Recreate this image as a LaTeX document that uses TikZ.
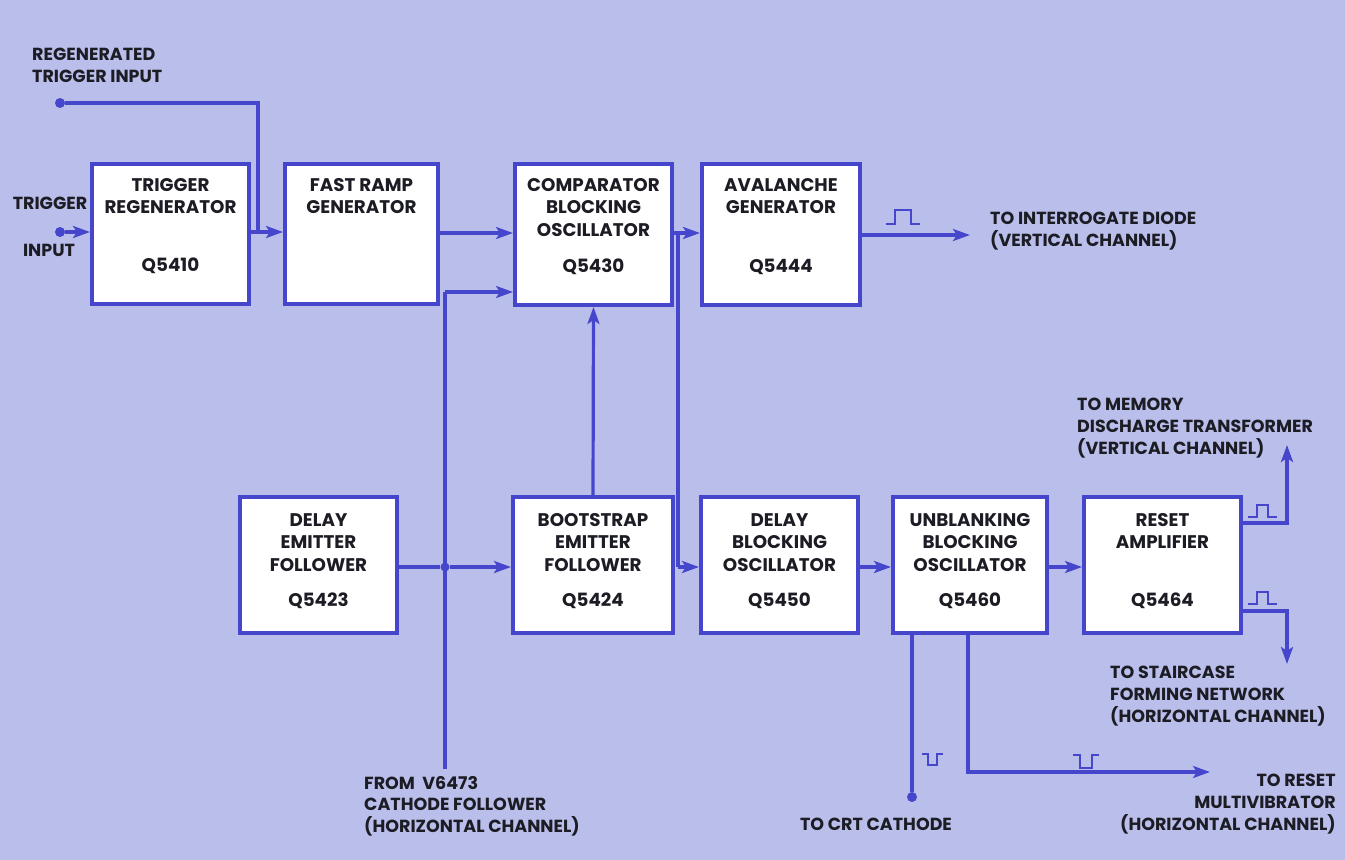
\documentclass[tikz,border=0pt]{standalone}
\usepackage{fontspec}
\setmainfont{Poppins}[BoldFont={* Bold}]
\usetikzlibrary{arrows.meta}
\definecolor{bg}{RGB}{186,190,234}
\definecolor{ln}{RGB}{70,70,205}
\definecolor{ink}{RGB}{28,28,36}
\tikzset{
  x=1pt, y=-1pt,
  blk/.style={draw=ln, line width=4pt, fill=white, inner sep=0pt},
  ttl/.style={font=\fontsize{18.3}{22.5}\selectfont\bfseries, text=ink, align=center, inner sep=0pt, anchor=north},
  qn/.style={font=\fontsize{18.3}{22.5}\selectfont\bfseries, text=ink, inner sep=0pt, anchor=base},
  lab/.style={font=\fontsize{17.5}{21.7}\selectfont\bfseries, text=ink, align=left, inner sep=0pt, anchor=north west},
  wire/.style={draw=ln, line width=3.2pt},
  arr/.style={wire, -{Stealth[length=17pt,width=12pt,inset=4pt]}},
  pulse/.style={draw=ln, line width=2pt},
  dot/.style={circle, fill=ln, inner sep=0pt, minimum size=10pt},
}
\begin{document}
\begin{tikzpicture}
\path[fill=bg] (0,0) rectangle (1345,860);
% boxes
\node[blk, minimum width=157pt, minimum height=140pt] (treg) at (170.5,234) {};
\node[blk, minimum width=153pt, minimum height=140pt] (fr) at (361.5,234) {};
\node[blk, minimum width=157pt, minimum height=141pt] (comp) at (593.5,234.5) {};
\node[blk, minimum width=158pt, minimum height=141pt] (aval) at (781,234.5) {};
\node[blk, minimum width=157pt, minimum height=136pt] (def) at (318.5,565) {};
\node[blk, minimum width=160pt, minimum height=136pt] (bef) at (593,565) {};
\node[blk, minimum width=157pt, minimum height=136pt] (dbo) at (779.5,565) {};
\node[blk, minimum width=154pt, minimum height=136pt] (ubo) at (970,565) {};
\node[blk, minimum width=157pt, minimum height=136pt] (rst) at (1162.5,565) {};
% box texts
\node[ttl] (t1) at ([yshift=-16pt]treg.north) {TRIGGER\\REGENERATOR};
\node[qn] (q1) at ([yshift=-109pt]treg.north) {Q5410};
\node[ttl] (t2) at ([yshift=-16pt]fr.north) {FAST RAMP\\GENERATOR};
\node[ttl] (t3) at ([yshift=-16pt]comp.north) {COMPARATOR\\BLOCKING\\OSCILLATOR};
\node[qn] (q3) at ([yshift=-110pt]comp.north) {Q5430};
\node[ttl] (t4) at ([yshift=-16pt]aval.north) {AVALANCHE\\GENERATOR};
\node[qn] (q4) at ([yshift=-110pt]aval.north) {Q5444};
\node[ttl] (t5) at ([yshift=-18pt]def.north) {DELAY\\EMITTER\\FOLLOWER};
\node[qn] (q5) at ([yshift=-111pt]def.north) {Q5423};
\node[ttl] (t6) at ([yshift=-18pt]bef.north) {BOOTSTRAP\\EMITTER\\FOLLOWER};
\node[qn] (q6) at ([yshift=-111pt]bef.north) {Q5424};
\node[ttl] (t7) at ([yshift=-18pt]dbo.north) {DELAY\\BLOCKING\\OSCILLATOR};
\node[qn] (q7) at ([yshift=-111pt]dbo.north) {Q5450};
\node[ttl] (t8) at ([yshift=-18pt]ubo.north) {UNBLANKING\\BLOCKING\\OSCILLATOR};
\node[qn] (q8) at ([yshift=-111pt]ubo.north) {Q5460};
\node[ttl] (t9) at ([yshift=-18pt]rst.north) {RESET\\AMPLIFIER};
\node[qn] (q9) at ([yshift=-111pt]rst.north) {Q5464};
% outside labels
\node[lab] (lregen) at (32,48) {REGENERATED\\TRIGGER INPUT};
\node[lab, anchor=north] (ltrig) at (50,197) {TRIGGER};
\node[lab, anchor=north] (linput) at (49,244) {INPUT};
\node[lab] (lint) at (990,212) {TO INTERROGATE DIODE\\(VERTICAL CHANNEL)};
\node[lab] (lmem) at (1077,398) {TO MEMORY\\DISCHARGE TRANSFORMER\\(VERTICAL CHANNEL)};
\node[lab] (lstair) at (1110,666) {TO STAIRCASE\\FORMING NETWORK\\(HORIZONTAL CHANNEL)};
\node[lab] (lfrom) at (364,776) {FROM\ \ V6473\\CATHODE FOLLOWER\\(HORIZONTAL CHANNEL)};
\node[lab, anchor=north] (lcrt) at (876,818) {TO CRT CATHODE};
\node[lab, anchor=north east, align=right] (lreset) at (1336,774) {TO RESET\\MULTIVIBRATOR\\(HORIZONTAL CHANNEL)};
% dots and coordinates
\node[dot] (dtrig) at (60,232) {};
\node[dot] (dregen) at (60,103) {};
\coordinate (rc) at (258,103);
\coordinate (rj) at (258,232);
\node[dot, minimum size=9pt] (jn) at (445,567) {};
\coordinate (jbot) at (445,769);
\coordinate (jtop) at (445,292);
\coordinate (cv) at (678,233);
\coordinate (cvb) at (678,567);
\coordinate (aout) at (970,235);
\coordinate (r1) at (1287,523);
\coordinate (r1t) at (1287,445);
\coordinate (r2) at (1287,611);
\coordinate (r2b) at (1287,664);
\node[dot] (dcrt) at (912,797) {};
\coordinate (u2) at (968,772);
\coordinate (uout) at (1210,772);
% connectors
\draw[arr] (dtrig) -- (treg.west |- dtrig);
\draw[wire] (dregen) -- (rc) -- (rj);
\draw[arr] (treg.east |- rj) -- (fr.west |- rj);
\draw[arr] (fr.east |- cv) -- (comp.west |- cv);
\draw[wire] (def.east |- jn) -- (jn);
\draw[arr] (jn) -- (bef.west |- jn);
\draw[wire] (jbot) -- (jtop);
\draw[arr] (jtop) -- (comp.west |- jtop);
\draw[arr] (bef.north) -- (comp.south);
\draw[arr] (comp.east |- cv) -- (aval.west |- cv);
\draw[wire] (cv) -- (cvb);
\draw[arr] (cvb) -- (dbo.west |- cvb);
\draw[arr] (aval.east |- aout) -- (aout);
\draw[arr] (dbo.east |- cvb) -- (ubo.west |- cvb);
\draw[arr] (ubo.east |- cvb) -- (rst.west |- cvb);
\draw[arr] (rst.east |- r1) -- (r1) -- (r1t);
\draw[arr] (rst.east |- r2) -- (r2) -- (r2b);
\draw[wire] (ubo.south -| dcrt) -- (dcrt);
\draw[arr] (ubo.south -| u2) -- (u2) -- (uout);
% pulses
\draw[pulse] (886,224) -- (895,224) -- (895,210) -- (911,210) -- (911,224) -- (920,224);
\draw[pulse] (1248,517) -- (1257,517) -- (1257,505) -- (1268,505) -- (1268,517) -- (1277,517);
\draw[pulse] (1248,604) -- (1257,604) -- (1257,592) -- (1268,592) -- (1268,604) -- (1277,604);
\draw[pulse] (922,754) -- (928,754) -- (928,765) -- (937,765) -- (937,754) -- (943,754);
\draw[pulse] (1073,755) -- (1080,755) -- (1080,768) -- (1092,768) -- (1092,755) -- (1099,755);
\end{tikzpicture}
\end{document}
